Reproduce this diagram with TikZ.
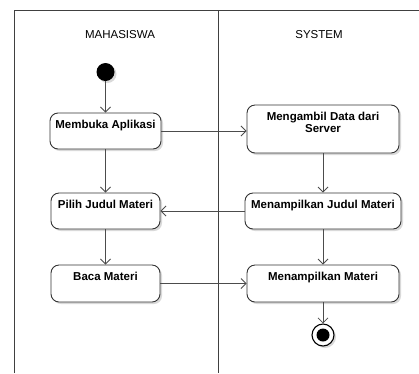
\documentclass[tikz,border=0pt]{standalone}
\usepackage{fontspec}
\setmainfont{Liberation Sans}
\usetikzlibrary{arrows.meta,shadows}
\begin{document}
\begin{tikzpicture}[x=1pt,y=-1pt,
 act/.style={draw=black!80, line width=0.9pt, rounded corners=8pt, fill=white, inner sep=0pt,
   drop shadow={shadow xshift=2pt, shadow yshift=-2pt, opacity=0.15, fill=black}},
 acttext/.style={anchor=north, inner sep=0pt, font=\bfseries\fontsize{11.5}{12}\selectfont, align=center, yshift=-7.5pt},
 flow/.style={draw=black!70, line width=0.8pt, -{Straight Barb[length=5pt,width=10pt]}},
 lane/.style={draw=black!75, line width=0.9pt},
 head/.style={font=\fontsize{11.5}{12}\selectfont, inner sep=0pt}]
\useasboundingbox (0,0) rectangle (419,373);
% swimlanes
\draw[lane] (14,373) -- (14,10) -- (419,10);
\draw[lane] (218,10) -- (218,373);
\node[head] (h1) at (120,35) {MAHASISWA};
\node[head] (h2) at (319,35) {SYSTEM};
% start
\node[circle, fill=black, minimum size=18pt, inner sep=0pt,
  drop shadow={shadow xshift=2pt, shadow yshift=-2pt, opacity=0.15, fill=black}] (start) at (105.5,72) {};
% activities
\node[act, minimum width=111pt, minimum height=36pt] (b1) at (105.5,131) {};
\node[acttext] (t1) at (b1.north) {Membuka Aplikasi};
\node[act, minimum width=152pt, minimum height=48pt] (b2) at (323,129) {};
\node[acttext] (t2) at (b2.north) {Mengambil Data dari\\Server};
\node[act, minimum width=109pt, minimum height=36pt] (b3) at (105.5,211) {};
\node[acttext] (t3) at (b3.north) {Pilih Judul Materi};
\node[act, minimum width=156pt, minimum height=36pt] (b4) at (323,211) {};
\node[acttext] (t4) at (b4.north) {Menampilkan Judul Materi};
\node[act, minimum width=109pt, minimum height=37pt] (b5) at (105.5,283.5) {};
\node[acttext] (t5) at (b5.north) {Baca Materi};
\node[act, minimum width=152pt, minimum height=37pt] (b6) at (323,283.5) {};
\node[acttext] (t6) at (b6.north) {Menampilkan Materi};
% end
\node[circle, draw=black, line width=1.1pt, fill=white, minimum size=22pt, inner sep=0pt,
  drop shadow={shadow xshift=2pt, shadow yshift=-2pt, opacity=0.15, fill=black}] (end) at (323,335) {};
\node[circle, fill=black, minimum size=13pt, inner sep=0pt] (endin) at (end) {};
% flows
\draw[flow] (start) -- (b1);
\draw[flow] (b1) -- (b1 -| b2.west);
\draw[flow] (b1) -- (b3);
\draw[flow] (b2) -- (b4);
\draw[flow] (b4) -- (b3);
\draw[flow] (b3) -- (b5);
\draw[flow] (b4) -- (b6);
\draw[flow] (b5) -- (b6);
\draw[flow] (b6) -- (end);
\end{tikzpicture}
\end{document}
